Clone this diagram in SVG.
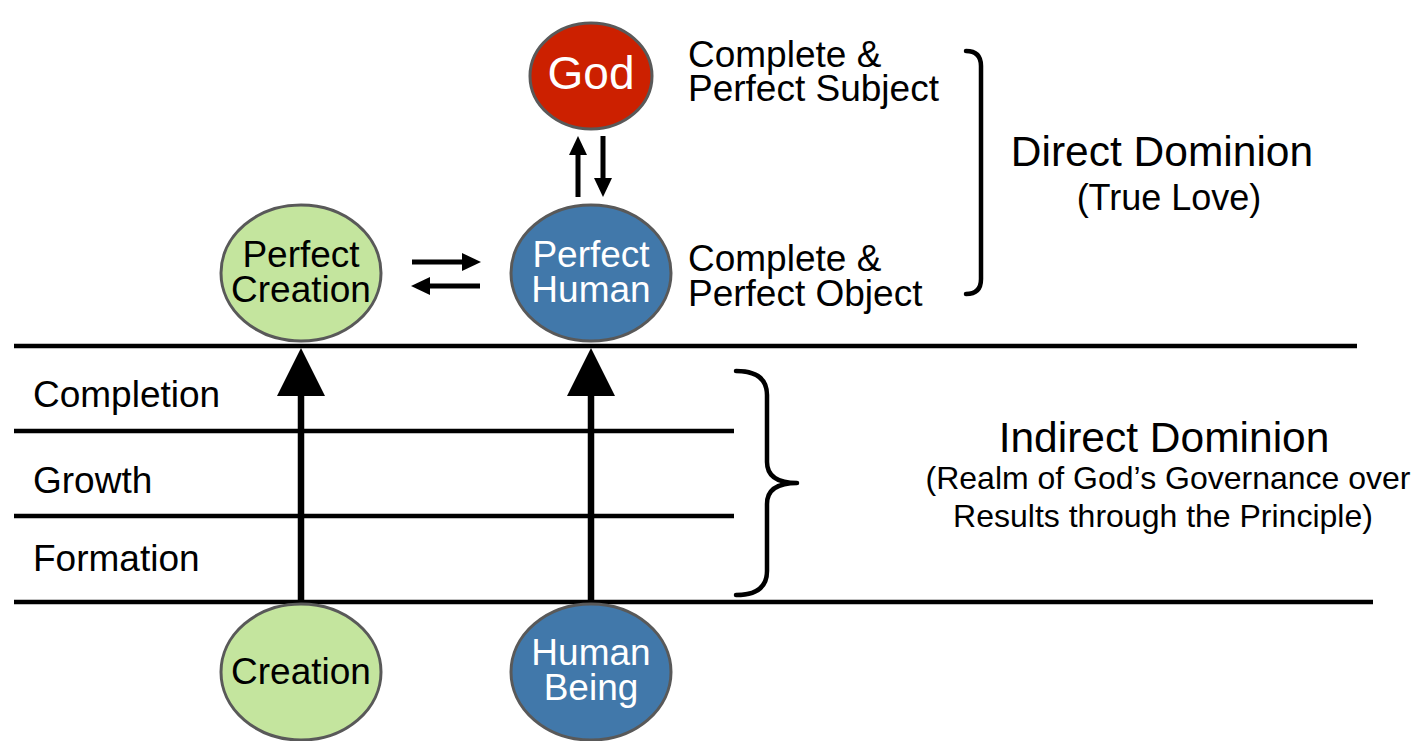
<svg xmlns="http://www.w3.org/2000/svg" width="1415" height="741" viewBox="0 0 1415 741">
<style>
text{font-family:"Liberation Sans",Arial,sans-serif;fill:#000}
.n{stroke:#595959;stroke-width:3}
.green{fill:#C4E59E}
.blue{fill:#4178AA}
.red{fill:#CC2000}
.w{fill:#fff}
.t36{font-size:37px}
.mid{text-anchor:middle}
.rule{stroke:#000;stroke-width:4.5;fill:none}
.br{stroke:#000;stroke-width:4.5;fill:none;stroke-linecap:round;stroke-linejoin:round}
.big{stroke:#000;stroke-width:6.5;fill:none}
.sm{stroke:#000;stroke-width:5;fill:none}
</style>
<defs>
<marker id="bigHead" viewBox="0 0 48 48" markerWidth="48" markerHeight="48" refX="0" refY="24" orient="auto" markerUnits="userSpaceOnUse">
<path d="M0,0 L48,24 L0,48 Z" fill="#000"/>
</marker>
<marker id="smHead" viewBox="0 0 19 18" markerWidth="19" markerHeight="18" refX="0" refY="9" orient="auto" markerUnits="userSpaceOnUse">
<path d="M0,0 L19,9 L0,18 Z" fill="#000"/>
</marker>
</defs>
<rect width="1415" height="741" fill="#fff"/>

<g id="levels">
<line class="rule" x1="14" y1="346" x2="1357" y2="346"/>
<line class="rule" x1="14" y1="431" x2="734" y2="431"/>
<line class="rule" x1="14" y1="516" x2="734" y2="516"/>
<line class="rule" x1="14" y1="602" x2="1373" y2="602"/>
<text class="t36" x="33" y="407">Completion</text>
<text class="t36" x="33" y="493">Growth</text>
<text class="t36" x="33" y="571">Formation</text>
</g>

<g id="connectors">
<line class="big" x1="301" y1="600" x2="301" y2="396" marker-end="url(#bigHead)"/>
<line class="big" x1="591" y1="600" x2="591" y2="396" marker-end="url(#bigHead)"/>
<line class="sm" x1="578" y1="197" x2="578" y2="155" marker-end="url(#smHead)"/>
<line class="sm" x1="603" y1="136" x2="603" y2="178" marker-end="url(#smHead)"/>
<line class="sm" x1="412" y1="262" x2="462" y2="262" marker-end="url(#smHead)"/>
<line class="sm" x1="480" y1="286" x2="430" y2="286" marker-end="url(#smHead)"/>
</g>

<g id="god">
<ellipse class="n red" cx="591" cy="76" rx="61" ry="53"/>
<text class="w mid" x="591" y="89" font-size="46">God</text>
</g>
<g id="perfect-creation">
<ellipse class="n green" cx="301" cy="273" rx="80" ry="68"/>
<text class="t36 mid" x="301" y="267">Perfect</text>
<text class="t36 mid" x="301" y="302">Creation</text>
</g>
<g id="perfect-human">
<ellipse class="n blue" cx="591" cy="273" rx="80" ry="68"/>
<text class="t36 mid w" x="591" y="267">Perfect</text>
<text class="t36 mid w" x="591" y="302">Human</text>
</g>
<g id="creation">
<ellipse class="n green" cx="301" cy="672" rx="80" ry="68"/>
<text class="t36 mid" x="301" y="684">Creation</text>
</g>
<g id="human-being">
<ellipse class="n blue" cx="591" cy="672" rx="80" ry="68"/>
<text class="t36 mid w" x="591" y="665">Human</text>
<text class="t36 mid w" x="591" y="700">Being</text>
</g>

<g id="labels">
<text class="t36" x="688" y="67">Complete &amp;</text>
<text class="t36" x="688" y="101">Perfect Subject</text>
<text class="t36" x="688" y="271">Complete &amp;</text>
<text class="t36" x="688" y="306">Perfect Object</text>
<text class="mid" x="1162" y="166" font-size="42.5">Direct Dominion</text>
<text class="mid" x="1169" y="210" font-size="36">(True Love)</text>
<text class="mid" x="1164" y="452" font-size="42.5">Indirect Dominion</text>
<text class="mid" x="1168" y="489" font-size="32">(Realm of God’s Governance over</text>
<text class="mid" x="1163" y="527" font-size="32">Results through the Principle)</text>
</g>

<g id="brackets">
<path class="br" d="M966,51 Q981,51 981,66 L981,279 Q981,294 966,294"/>
<path class="br" d="M736,371 Q767,371 767,395 L767,462 Q767,483 797,483 Q767,483 767,504 L767,571 Q767,595 736,595"/>
</g>
</svg>
